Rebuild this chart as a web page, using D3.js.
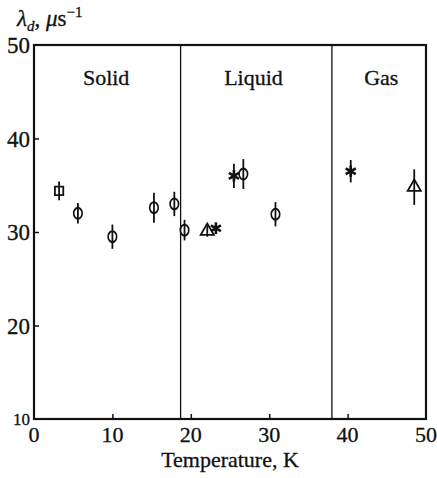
<!DOCTYPE html>
<html>
<head>
<meta charset="utf-8">
<script src="https://cdn.jsdelivr.net/npm/d3@7"></script>
<style>
  body { margin: 0; background: #fff; }
  text { fill: #111; stroke: #111; stroke-width: 0.3px; }
</style>
</head>
<body>
<div id="chart"></div>
<script>
var width  = 437;
var height = 478;

// data
var xTicks = [0, 10, 20, 30, 40, 50];
var yTicks = [10, 20, 30, 40, 50];
var phaseBounds = [18.7, 38.0];
var phaseNames = ["Solid", "Liquid", "Gas"];
var phaseLabelX = [9.2, 28.0, 44.3];

var temps   = [3.2, 5.6, 10.0, 15.3, 17.9, 19.2, 22.1, 23.2, 25.5, 26.7, 30.8, 40.4, 48.5];
var lambdas = [34.4, 32.0, 29.5, 32.6, 33.0, 30.2, 30.1, 30.4, 36.0, 36.2, 31.9, 36.5, 34.8];
var errors  = [1.0, 1.1, 1.3, 1.6, 1.3, 1.1, 0.6, 0.6, 1.3, 1.6, 1.3, 1.2, 1.9];
var symbols = ["square", "circle", "circle", "circle", "circle", "circle", "triangle", "star", "star", "circle", "circle", "star", "triangle"];

var margin = {left: 34, right: 11, top: 45, bottom: 59};
var serif = "'Liberation Serif', 'Times New Roman', Times, serif";

var svg = d3.select("#chart")
    .append("svg")
    .attr("width", width)
    .attr("height", height);

var x = d3.scaleLinear().domain([0, 50]).range([margin.left, width - margin.right]);
var y = d3.scaleLinear().domain([10, 50]).range([height - margin.bottom, margin.top]);

// frame
svg.append("rect")
    .attr("x", x(0)).attr("y", y(50))
    .attr("width", x(50) - x(0)).attr("height", y(10) - y(50))
    .attr("fill", "none").attr("stroke", "#111").attr("stroke-width", 2.2);

// phase lines
svg.selectAll(".phase")
    .data(phaseBounds)
    .enter()
    .append("line")
    .attr("x1", function(d) { return x(d) })
    .attr("x2", function(d) { return x(d) })
    .attr("y1", y(50)).attr("y2", y(10))
    .attr("stroke", "#111").attr("stroke-width", 1.3);

svg.selectAll(".phaseLabel")
    .data(phaseNames)
    .enter()
    .append("text")
    .attr("x", function(d, i) { return x(phaseLabelX[i]) })
    .attr("y", 85)
    .attr("text-anchor", "middle")
    .style("font-family", serif)
    .style("font-size", "22px")
    .text(function(d) { return d });

// axes (ticks inside)
var xAxis = d3.axisTop(x).tickValues(xTicks.slice(1, -1)).tickSize(5).tickFormat("");
svg.append("g").attr("transform", "translate(0," + y(10) + ")").call(xAxis)
    .call(function(g) { g.select(".domain").remove() })
    .selectAll("line").attr("stroke", "#111").attr("stroke-width", 1.5);

var yAxis = d3.axisRight(y).tickValues(yTicks.slice(1, -1)).tickSize(5).tickFormat("");
svg.append("g").attr("transform", "translate(" + x(0) + ",0)").call(yAxis)
    .call(function(g) { g.select(".domain").remove() })
    .selectAll("line").attr("stroke", "#111").attr("stroke-width", 1.5);

// tick labels
svg.selectAll(".xlab")
    .data(xTicks)
    .enter()
    .append("text")
    .attr("x", function(d) { return x(d) })
    .attr("y", 442)
    .attr("text-anchor", "middle")
    .style("font-family", serif)
    .style("font-size", "22px")
    .text(function(d) { return d });

svg.selectAll(".ylab")
    .data(yTicks)
    .enter()
    .append("text")
    .attr("x", x(0) - 4)
    .attr("y", function(d) { return y(d) + (d === 10 ? 6 : 8) })
    .attr("text-anchor", "end")
    .style("font-family", serif)
    .style("font-size", function(d) { return d === 10 ? "17px" : "23px" })
    .text(function(d) { return d });

// axis titles
svg.append("text")
    .attr("x", x(25))
    .attr("y", 467)
    .attr("text-anchor", "middle")
    .style("font-family", serif)
    .style("font-size", "22px")
    .text("Temperature, K");

var yt = svg.append("text")
    .attr("x", 17)
    .attr("y", 26)
    .style("font-family", serif)
    .style("font-size", "23px");
yt.append("tspan").style("font-style", "italic").text("λ");
yt.append("tspan").attr("dy", 5).style("font-style", "italic").style("font-size", "15px").text("d");
yt.append("tspan").attr("dy", -5).text(", ");
yt.append("tspan").style("font-style", "italic").text("μ");
yt.append("tspan").text("s");
yt.append("tspan").attr("dy", -9).style("font-size", "15px").text("−1");

// points
var pts = temps.map(function(t, i) {
  return {t: t, l: lambdas[i], e: errors[i], s: symbols[i]};
});

var g = svg.append("g");

g.selectAll(".err")
    .data(pts)
    .enter()
    .append("line")
    .attr("x1", function(d) { return x(d.t) })
    .attr("x2", function(d) { return x(d.t) })
    .attr("y1", function(d) { return y(d.l + d.e) })
    .attr("y2", function(d) { return y(d.l - d.e) })
    .attr("stroke", "#111").attr("stroke-width", 1.8);

var symMap = {
  square: d3.symbolSquare,
  circle: d3.symbolCircle,
  triangle: d3.symbolTriangle,
  star: d3.symbolAsterisk
};

g.selectAll(".pt")
    .data(pts)
    .enter()
    .append("path")
    .attr("transform", function(d) {
      var s = d.s === "circle" ? " scale(0.9,1.15)" : "";
      return "translate(" + x(d.t) + "," + y(d.l) + ")" + s;
    })
    .attr("d", function(d) {
      if (d.s === "star") {
        return d3.symbol().type(d3.symbolAsterisk).size(95)();
      }
      return d3.symbol().type(symMap[d.s]).size(d.s === "triangle" ? 75 : 70)();
    })
    .attr("fill", "none")
    .attr("stroke", "#111")
    .attr("stroke-width", function(d) { return d.s === "star" ? 2.6 : 1.8 });
</script>
</body>
</html>
